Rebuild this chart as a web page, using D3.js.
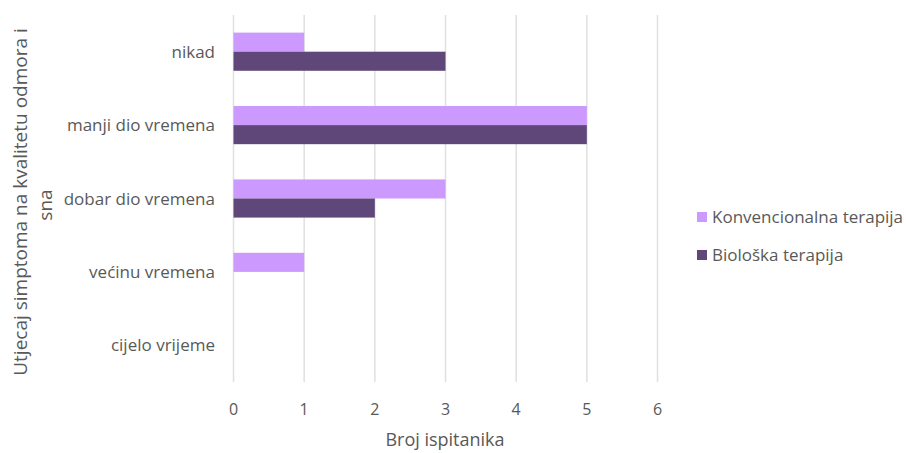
<!DOCTYPE html>
<html><head><meta charset="utf-8">
<script src="https://cdn.jsdelivr.net/npm/d3@7"></script>
<style>body{margin:0;background:#fff}text{font-family:"Open Sans",sans-serif;fill:#595959}</style>
</head><body><svg id="c" width="906" height="453"></svg>
<script>
const categories = ["nikad","manji dio vremena","dobar dio vremena","većinu vremena","cijelo vrijeme"];
const seriesNames = ["Konvencionalna terapija","Biološka terapija"];
const konvencionalna = [1,5,3,1,0];
const bioloska = [3,5,2,0,0];
const xTicks = [0,1,2,3,4,5,6];
const colors = ["#CC99FF","#5F4779"];
const seriesValues = [konvencionalna, bioloska];

const svg = d3.select("#c");
const x = d3.scaleLinear().domain([0,6]).range([233.5,657.5]);
const y = d3.scaleBand().domain(categories).range([15,382]).paddingInner(0.48).paddingOuter(0.24);
const ys = d3.scaleBand().domain(seriesNames).range([0,y.bandwidth()]);

svg.append("g").selectAll("line").data(xTicks).join("line")
  .attr("x1",d=>x(d)).attr("x2",d=>x(d)).attr("y1",15).attr("y2",382)
  .attr("stroke","#e0e0e0").attr("stroke-width",1.5);

const g = svg.append("g");
categories.forEach((c,i)=>{
  seriesNames.forEach((s,j)=>{
    const v = seriesValues[j][i];
    if (v>0) g.append("rect").attr("x",x(0)).attr("y",y(c)+ys(s))
      .attr("width",x(v)-x(0)).attr("height",ys.bandwidth()).attr("fill",colors[j]);
  });
});

svg.append("g").selectAll("text").data(xTicks).join("text")
  .attr("x",d=>x(d)).attr("y",415).attr("text-anchor","middle").attr("font-size",16).text(d=>d);
svg.append("g").selectAll("text").data(categories).join("text")
  .attr("x",215).attr("y",d=>y(d)+y.bandwidth()/2+6).attr("text-anchor","end").attr("font-size",17).text(d=>d);

svg.append("text").attr("x",445).attr("y",446).attr("text-anchor","middle").attr("font-size",18).text("Broj ispitanika");
svg.append("text").attr("transform","translate(27,202) rotate(-90)").attr("text-anchor","middle").attr("font-size",19).text("Utjecaj simptoma na kvalitetu odmora i");
svg.append("text").attr("transform","translate(52,205) rotate(-90)").attr("text-anchor","middle").attr("font-size",19).text("sna");

const lg = svg.append("g");
seriesNames.forEach((s,j)=>{
  const yy = 217 + j*38;
  lg.append("rect").attr("x",697).attr("y",yy-5).attr("width",10).attr("height",10).attr("fill",colors[j]);
  lg.append("text").attr("x",712).attr("y",yy+6).attr("font-size",17).text(s);
});
</script></body></html>
